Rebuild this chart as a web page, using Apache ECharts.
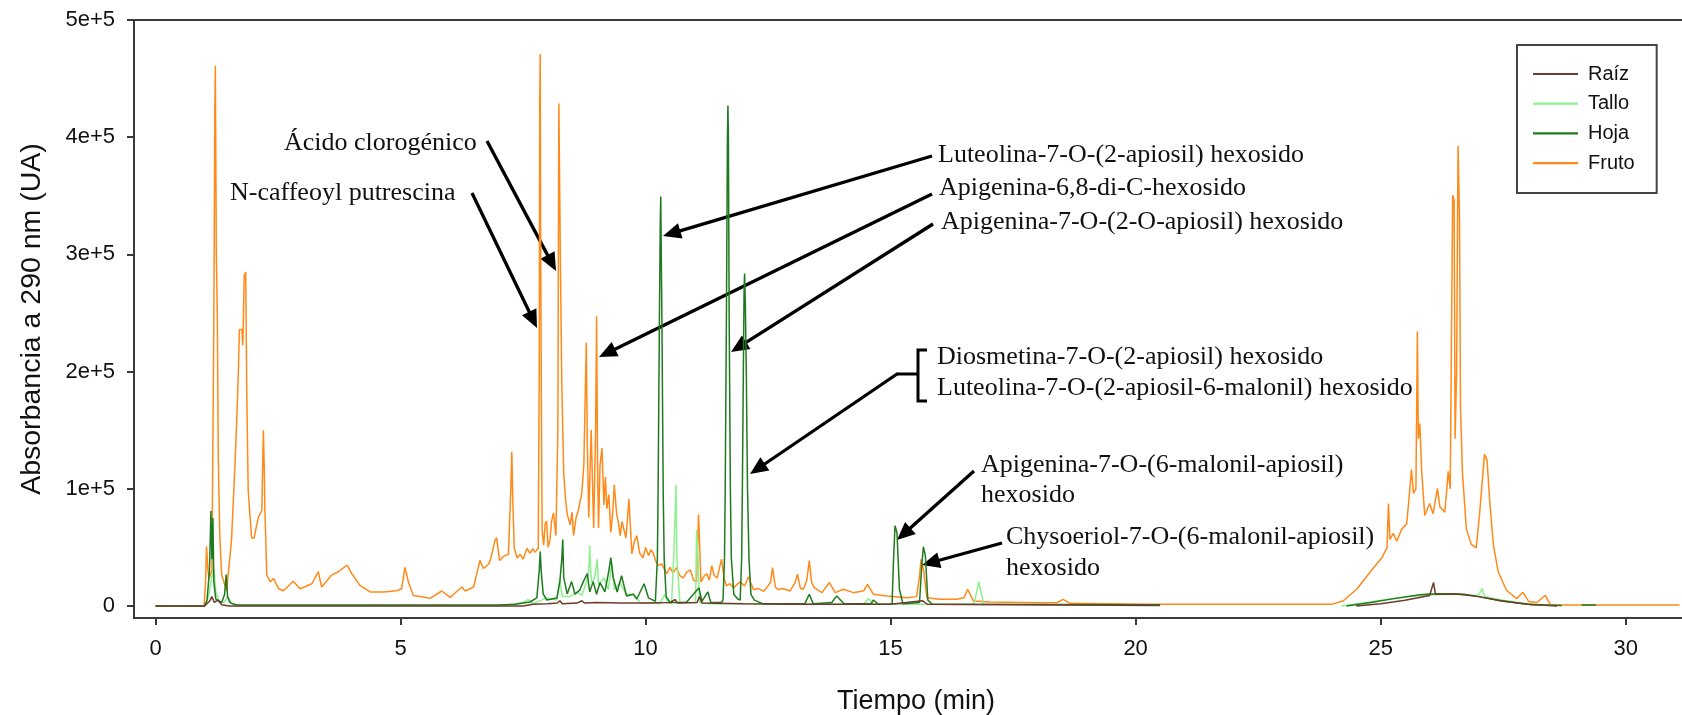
<!DOCTYPE html>
<html>
<head>
<meta charset="utf-8">
<script src="https://cdn.jsdelivr.net/npm/echarts@6/dist/echarts.min.js"></script>
<style>
html,body{margin:0;padding:0;background:#fff;}
#chart{width:1682px;height:715px;}
</style>
</head>
<body>
<div id="chart"></div>
<script>
// ---------- DATA ----------
const seriesNames = ['Raíz', 'Tallo', 'Hoja', 'Fruto'];
const xTickValues = [0, 5, 10, 15, 20, 25, 30];
const yTickValues = [0, 100000, 200000, 300000, 400000, 500000];
const yTickLabels = ['0', '1e+5', '2e+5', '3e+5', '4e+5', '5e+5'];
const xAxisTitle = 'Tiempo (min)';
const yAxisTitle = 'Absorbancia a 290 nm (UA)';

const fruto = [
 [0,0],[0.99,0],[1.02,20000],[1.04,51000],[1.07,30000],[1.09,23400],[1.15,30000],[1.19,250000],[1.21,425000],[1.22,461000],
 [1.24,300000],[1.26,250000],[1.28,128000],[1.31,60000],[1.35,26500],[1.45,13000],[1.55,56000],[1.62,120000],[1.66,163000],
 [1.69,200000],[1.71,236000],[1.76,236000],[1.78,222600],[1.81,282000],[1.84,285000],[1.86,186000],[1.89,99000],[1.96,58000],
 [2.01,58000],[2.10,76000],[2.17,81500],[2.19,130000],[2.20,150000],[2.22,113600],[2.23,84600],[2.27,26500],[2.34,20500],
 [2.41,23400],[2.51,14700],[2.61,13000],[2.81,21100],[2.95,14700],[3.19,19000],[3.32,29200],[3.39,16200],[3.59,26300],
 [3.73,29200],[3.91,35000],[4.00,27800],[4.17,17600],[4.38,12000],[4.65,12000],[4.92,13000],[5.02,14700],[5.09,33000],
 [5.16,20500],[5.26,8900],[5.46,7700],[5.6,6500],[5.84,12800],[6.01,7300],[6.25,16200],[6.32,12800],[6.49,16200],
 [6.62,38900],[6.69,32000],[6.79,35400],[6.83,38900],[6.93,56400],[6.96,58200],[7.02,38900],[7.1,42300],[7.2,44100],
 [7.25,100000],[7.27,131700],[7.29,90000],[7.32,49300],[7.38,41000],[7.44,44100],[7.5,40000],[7.58,49300],[7.64,45000],
 [7.7,49000],[7.74,45800],[7.81,49300],[7.83,200000],[7.84,429500],[7.85,471000],[7.86,300000],[7.88,120000],[7.89,63400],
 [7.92,52000],[7.95,70000],[7.98,72400],[8.01,50000],[8.05,56400],[8.08,72000],[8.12,79400],[8.17,60000],[8.21,150000],
 [8.23,428800],[8.26,300000],[8.29,189700],[8.33,112500],[8.37,90000],[8.40,78400],[8.46,69200],[8.5,80000],[8.53,60000],
 [8.58,75000],[8.63,81900],[8.70,97000],[8.74,120900],[8.79,224600],[8.81,140300],[8.84,75400],[8.89,150300],[8.94,66600],
 [8.98,150000],[9.00,247200],[9.02,120000],[9.04,66600],[9.07,120000],[9.11,134700],[9.15,86300],[9.18,110000],
 [9.21,83000],[9.25,95000],[9.29,62800],[9.33,80000],[9.36,103500],[9.41,78400],[9.45,70000],[9.48,60000],[9.52,72000],
 [9.55,66600],[9.6,58000],[9.66,91200],[9.72,44600],[9.77,55000],[9.82,60000],[9.88,45000],[9.95,41200],[10.0,50000],
 [10.06,43000],[10.11,48000],[10.16,44600],[10.21,38000],[10.26,34400],[10.33,36000],[10.43,27500],[10.5,33000],
 [10.56,28000],[10.63,32700],[10.7,26000],[10.77,24000],[10.84,29000],[10.91,30900],[10.98,22000],[11.04,20600],
 [11.08,78000],[11.13,20600],[11.2,26000],[11.25,27500],[11.3,22000],[11.35,34400],[11.4,26000],[11.46,24000],
 [11.51,33000],[11.55,40000],[11.6,24000],[11.65,17200],[11.72,19000],[11.79,15500],[11.86,18000],[11.93,20600],
 [12.02,17000],[12.1,25000],[12.2,14000],[12.3,15000],[12.41,12500],[12.55,20000],[12.59,32800],[12.65,16000],
 [12.71,14000],[12.8,15000],[12.95,12800],[13.05,20000],[13.1,27100],[13.16,15000],[13.22,14300],[13.29,22000],
 [13.34,38500],[13.39,20000],[13.44,15700],[13.6,11400],[13.75,20000],[13.87,11400],[14.04,14300],[14.24,11400],
 [14.45,13000],[14.53,18500],[14.65,10000],[14.92,8600],[15.33,7100],[15.53,8000],[15.59,25000],[15.62,39900],
 [15.67,31400],[15.74,7100],[16.0,5700],[16.35,5700],[16.5,7000],[16.57,14300],[16.69,4300],[17.03,3400],[18.05,2850],
 [18.4,3000],[18.52,5700],[18.66,2300],[20.1,1400],[24.0,1400],[24.24,4500],[24.52,14700],[24.79,29200],[25.02,40900],
 [25.13,49600],[25.16,87400],[25.19,56800],[25.26,62000],[25.33,55200],[25.43,65600],[25.53,69900],[25.57,87400],
 [25.63,116500],[25.67,96100],[25.72,100000],[25.75,234200],[25.77,142700],[25.8,155700],[25.84,113600],[25.9,77200],
 [26.0,87400],[26.07,78800],[26.16,100400],[26.21,84600],[26.31,80000],[26.38,115000],[26.42,100000],[26.45,250000],
 [26.47,350500],[26.5,346200],[26.52,142700],[26.55,200000],[26.58,392600],[26.61,330000],[26.63,168500],[26.67,113600],
 [26.75,65600],[26.85,52500],[26.95,49600],[27.02,78800],[27.12,129600],[27.17,125000],[27.23,87400],[27.3,52500],
 [27.4,29200],[27.57,13200],[27.78,6300],[27.9,11800],[28.02,3900],[28.19,3000],[28.36,9200],[28.46,1200],[28.6,800],
 [31.1,800]
];

const hoja = [
 [0,0],[1.0,0],[1.05,5000],[1.1,30000],[1.13,81000],[1.15,40000],[1.17,75000],[1.19,20000],[1.23,5800],[1.35,3000],
 [1.41,10000],[1.44,26800],[1.47,8000],[1.52,2900],[1.65,800],[7.0,800],[7.34,1500],[7.64,3400],[7.78,6900],[7.83,30000],
 [7.85,46500],[7.87,30000],[7.91,10300],[7.98,5200],[8.19,6900],[8.25,20800],[8.29,40000],[8.31,56800],[8.33,24200],
 [8.40,10300],[8.49,20800],[8.56,10000],[8.66,13800],[8.73,20800],[8.81,27700],[8.86,12000],[8.93,20800],[9.00,10000],
 [9.07,20000],[9.17,12000],[9.25,30000],[9.29,41300],[9.34,24200],[9.42,12000],[9.51,25900],[9.61,8600],[9.75,10000],
 [9.82,6000],[9.97,19000],[10.06,6900],[10.2,4000],[10.24,40000],[10.255,95000],[10.28,234000],[10.30,330000],
 [10.31,349300],[10.32,300000],[10.335,234000],[10.36,95000],[10.38,40000],[10.42,8000],[10.5,3000],[10.83,3000],
 [11.09,15500],[11.15,4000],[11.27,12000],[11.33,3000],[11.55,3000],[11.58,5000],[11.61,40000],[11.625,100000],
 [11.65,250000],[11.67,400000],[11.68,427100],[11.69,400000],[11.705,250000],[11.73,100000],[11.75,41000],[11.8,10000],
 [11.88,6000],[11.93,5000],[11.96,40000],[11.975,100000],[11.995,200000],[12.01,270000],[12.02,283700],[12.035,260000],
 [12.055,200000],[12.08,100000],[12.11,40000],[12.15,10000],[12.22,5000],[12.39,2000],[13.25,2000],
 [13.34,10000],[13.42,2000],[13.8,3000],[13.9,8600],[14.05,2000],[14.6,2000],[14.65,5100],[14.75,1500],[15.03,1500],
 [15.06,40000],[15.09,68400],[15.13,62700],[15.18,14300],[15.25,2000],[15.59,3000],[15.64,37000],[15.67,50400],
 [15.71,42700],[15.76,5000],[15.85,1500],[20.5,1000],[20.55,'-'],
 [24.3,0],[24.8,3000],[25.3,6500],[25.8,9500],[26.0,10300],[26.4,10500],[26.7,10000],[27.0,8000],[27.4,5000],
 [27.8,2500],[28.1,1000],[28.7,500],[28.8,'-'],[29.1,800],[29.4,800]
];

const tallo = [
 [0,0],[1.0,0],[1.08,8000],[1.15,25000],[1.19,31600],[1.23,12000],[1.3,4000],[1.4,3000],[1.47,8000],[1.55,2000],
 [1.7,500],[7.0,500],[7.3,1500],[7.5,3000],[7.6,5500],[7.71,2000],[7.98,6900],[8.19,5000],[8.25,22400],[8.3,8000],
 [8.46,8000],[8.6,12000],[8.7,9000],[8.79,20000],[8.84,30000],[8.86,51600],[8.88,30000],[8.9,20000],[8.96,24000],
 [9.01,39800],[9.04,18000],[9.15,24000],[9.24,14000],[9.31,36500],[9.36,14000],[9.48,20000],[9.6,10000],[9.75,10000],
 [9.89,3000],[10.29,2000],[10.39,10000],[10.45,3000],[10.53,2000],[10.58,48200],[10.62,103500],[10.64,40000],
 [10.7,3000],[11.02,3000],[11.04,65000],[11.07,40000],[11.1,3000],[11.3,2000],[12.2,2000],[14.45,1500],[14.55,6300],
 [14.65,1500],[16.7,1500],[16.8,20500],[16.9,1500],[20.5,800],[20.55,'-'],
 [24.2,0],[24.7,3000],[25.2,6000],[25.7,8500],[26.1,9500],[26.6,10000],[27.0,9000],[27.07,15000],[27.12,8000],
 [27.5,5000],[28.0,2000],[28.6,500]
];

const raiz = [
 [0,0],[1.0,0],[1.1,4000],[1.15,8000],[1.2,3000],[1.27,5000],[1.35,1000],[1.5,0],[7.5,0],[7.7,1500],[8.0,2000],
 [8.2,2500],[8.25,4500],[8.3,2000],[8.6,2500],[8.7,4500],[8.75,2500],[9.0,3000],[9.5,2500],[10.0,2500],[10.5,3000],
 [10.6,5500],[10.65,2500],[11.05,3000],[11.1,8000],[11.15,2500],[12.0,2000],[13.0,1500],[15.0,1500],[15.65,4500],
 [15.75,1500],[20.5,500],[20.55,'-'],
 [24.5,0],[25.0,2000],[25.5,5000],[26.0,9000],[26.08,20000],[26.12,10000],[26.5,10500],[27.0,8000],[27.5,4000],
 [28.0,1500],[28.6,0]
];

// ---------- ANNOTATIONS (pixel layout) ----------
const labels = [
 {t:'Ácido clorogénico', x:284, y:143},
 {t:'N-caffeoyl putrescina', x:230, y:193},
 {t:'Luteolina-7-O-(2-apiosil) hexosido', x:938, y:155},
 {t:'Apigenina-6,8-di-C-hexosido', x:939, y:188},
 {t:'Apigenina-7-O-(2-O-apiosil) hexosido', x:941, y:222},
 {t:'Diosmetina-7-O-(2-apiosil) hexosido', x:937, y:357},
 {t:'Luteolina-7-O-(2-apiosil-6-malonil) hexosido', x:937, y:388},
 {t:'Apigenina-7-O-(6-malonil-apiosil)', x:981, y:465},
 {t:'hexosido', x:981, y:495},
 {t:'Chysoeriol-7-O-(6-malonil-apiosil)', x:1006, y:537},
 {t:'hexosido', x:1006, y:568}
];
const arrows = [
 [487,141,556,271],
 [472,193,537,328],
 [932,156,663,236],
 [932,194,599,357],
 [933,224,731,352],
 [897,374,750,474],
 [974,471,897,540],
 [1002,543,922,565]
];

function arrowGraphic(a){
  const [x1,y1,x2,y2]=a;
  const dx=x2-x1, dy=y2-y1, len=Math.hypot(dx,dy);
  const ux=dx/len, uy=dy/len, L=18, W=8;
  const bx=x2-ux*L, by=y2-uy*L;
  const px=-uy, py=ux;
  return {type:'group', children:[
    {type:'line', shape:{x1:x1,y1:y1,x2:bx+ux*2,y2:by+uy*2}, style:{stroke:'#000',lineWidth:3.3}},
    {type:'polygon', shape:{points:[[x2,y2],[bx+px*W,by+py*W],[bx-px*W,by-py*W]]}, style:{fill:'#000'}}
  ]};
}

const graphics = [];
labels.forEach(l=>graphics.push({type:'text', x:l.x, y:l.y, style:{text:l.t, fill:'#111', font:'26px "Liberation Serif", "Times New Roman", serif', textVerticalAlign:'middle', textAlign:'left'}}));
arrows.forEach(a=>graphics.push(arrowGraphic(a)));
graphics.push({type:'polyline', shape:{points:[[927,350],[918,350],[918,401],[927,401]]}, style:{stroke:'#000',lineWidth:3,fill:null}});
graphics.push({type:'line', shape:{x1:918,y1:374,x2:896,y2:374}, style:{stroke:'#000',lineWidth:3}});

// ---------- CHART ----------
const colors = {Raíz:'#6e3b2c', Tallo:'#8ef08e', Hoja:'#1f7a1f', Fruto:'#ff8a1a'};
const dataMap = {Raíz:raiz, Tallo:tallo, Hoja:hoja, Fruto:fruto};
const drawOrder = ['Fruto','Tallo','Hoja','Raíz'];
const axisColor = '#3a3a3a';
const sans = '"Liberation Sans", Arial, sans-serif';

const chart = echarts.init(document.getElementById('chart'), null, {renderer:'canvas'});
chart.setOption({
  animation:false,
  backgroundColor:'#fff',
  grid:{left:134, right:0, top:20, bottom:97, containLabel:false, outerBoundsMode:'none'},
  legend:{
    orient:'vertical', left:1517, top:45,
    data:seriesNames,
    icon:'rect',
    itemWidth:45, itemHeight:2.2, itemGap:8.7,
    padding:[18.5,22,19.4,16],
    borderColor:'#444', borderWidth:2,
    textStyle:{fontFamily:sans, fontSize:20, lineHeight:21, color:'#111', padding:[0,0,0,5]}
  },
  xAxis:[{
    type:'value', min:-0.44, max:31.15,
    axisLine:{show:true, onZero:false, lineStyle:{color:axisColor, width:2}},
    axisTick:{show:true, length:7, lineStyle:{color:axisColor, width:2}, customValues:xTickValues},
    axisLabel:{customValues:xTickValues, margin:20, fontSize:22, color:'#111', fontFamily:sans},
    splitLine:{show:false},
    name:xAxisTitle, nameLocation:'middle', nameGap:70,
    nameTextStyle:{fontSize:27, color:'#111', fontFamily:sans, padding:[0,0,0,16]}
  },{
    type:'value', position:'top', min:0, max:1,
    axisLine:{show:true, onZero:false, lineStyle:{color:axisColor, width:2}},
    axisTick:{show:false}, axisLabel:{show:false}, splitLine:{show:false}
  }],
  yAxis:{
    type:'value', min:-10240, max:500000,
    axisLine:{show:true, onZero:false, lineStyle:{color:axisColor, width:2}},
    axisTick:{show:true, length:7, lineStyle:{color:axisColor, width:2}, customValues:yTickValues},
    axisLabel:{customValues:yTickValues, margin:19, fontSize:22, color:'#111', fontFamily:sans,
      formatter:function(v){ const i=yTickValues.indexOf(v); return i>=0?yTickLabels[i]:''; }},
    splitLine:{show:false},
    name:yAxisTitle, nameLocation:'middle', nameGap:87, nameRotate:90,
    nameTextStyle:{fontSize:28.5, color:'#111', fontFamily:sans}
  },
  series: drawOrder.map(n=>({
    name:n, type:'line', data:dataMap[n], xAxisIndex:0, yAxisIndex:0,
    symbol:'none', showSymbol:false, connectNulls:false, clip:true,
    lineStyle:{color:colors[n], width:1.5}, itemStyle:{color:colors[n]},
    emphasis:{disabled:true}
  })),
  graphic: graphics
});
</script>
</body>
</html>
